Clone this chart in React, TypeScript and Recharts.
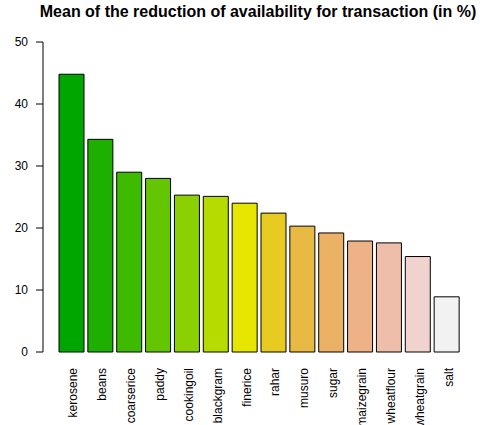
import { BarChart, Bar, XAxis, YAxis, Cell } from "recharts";

const items = [
  "kerosene", "beans", "coarserice", "paddy", "cookingoil", "blackgram", "finerice",
  "rahar", "musuro", "sugar", "maizegrain", "wheatflour", "wheatgrain", "salt",
];
const reduction = [44.8, 34.3, 29.0, 28.0, 25.3, 25.1, 24.0, 22.4, 20.3, 19.2, 17.9, 17.6, 15.4, 8.9];
const yTicks = [0, 10, 20, 30, 40, 50];

// R terrain.colors(14)
const COLORS = [
  "#00A600", "#1DB000", "#3EBB00", "#63C600", "#8BD000", "#B6DB00", "#E6E600",
  "#E7CB21", "#E9BA43", "#EBB165", "#EDB387", "#EFBEAA", "#F0D3CE", "#F2F2F2",
];

const FONT = "'Liberation Sans', Arial, sans-serif";

const rows = items.map((name, i) => ({ name, value: reduction[i] }));

function ItemTick({ x, y, payload }: any) {
  const tx = x + 6;
  const ty = y + 8;
  return (
    <text
      x={tx}
      y={ty}
      transform={`rotate(-90, ${tx}, ${ty})`}
      textAnchor="end"
      fontSize={12}
      fontFamily={FONT}
      fill="#000"
    >
      {payload.value}
    </text>
  );
}

export default function App() {
  return (
    <div style={{ position: "absolute", left: 0, top: 0, width: 483, height: 425, background: "#fff" }}>
      <div
        style={{
          position: "absolute",
          left: 0,
          top: 3,
          width: 516,
          textAlign: "center",
          fontFamily: FONT,
          fontWeight: "bold",
          fontSize: 16,
          color: "#000",
        }}
      >
        Mean of the reduction of availability for transaction (in %)
      </div>
      <BarChart
        width={483}
        height={425}
        data={rows}
        margin={{ top: 42, right: 22, bottom: 0, left: 0 }}
        barCategoryGap={2}
      >
        <XAxis
          dataKey="name"
          axisLine={false}
          tickLine={false}
          interval={0}
          height={73}
          padding={{ left: 14, right: 0 }}
          tick={<ItemTick />}
        />
        <YAxis
          width={43}
          domain={[0, 50]}
          ticks={yTicks}
          tickSize={7}
          tickMargin={8}
          stroke="#000"
          tick={{ fill: "#000", fontSize: 12, fontFamily: FONT }}
        />
        <Bar dataKey="value" stroke="#000" strokeWidth={1} isAnimationActive={false}>
          {rows.map((_, i) => (
            <Cell key={i} fill={COLORS[i % COLORS.length]} />
          ))}
        </Bar>
      </BarChart>
    </div>
  );
}
